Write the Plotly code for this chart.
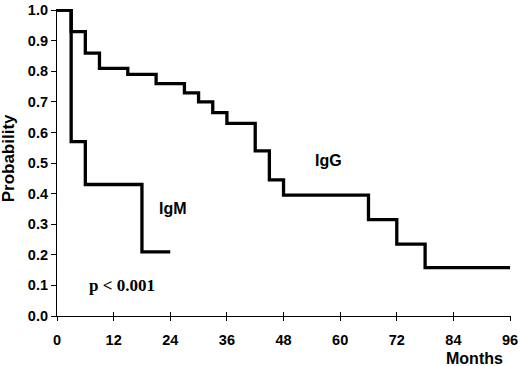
import plotly.graph_objects as go

igg_months = [0, 3, 6, 9, 15, 21, 27, 30, 33, 36, 42, 45, 48, 66, 72, 78, 96]
igg_prob = [1.0, 0.93, 0.86, 0.81, 0.79, 0.76, 0.73, 0.70, 0.665, 0.63, 0.54, 0.445, 0.395, 0.315, 0.235, 0.158, 0.158]
igm_months = [0, 3, 6, 18, 24]
igm_prob = [1.0, 0.57, 0.43, 0.21, 0.21]
x_ticks = [0, 12, 24, 36, 48, 60, 72, 84, 96]
y_ticks = [0.0, 0.1, 0.2, 0.3, 0.4, 0.5, 0.6, 0.7, 0.8, 0.9, 1.0]

fig = go.Figure()
fig.add_trace(go.Scatter(x=igg_months, y=igg_prob, mode="lines", line=dict(shape="hv", color="black", width=3.3), name="IgG"))
fig.add_trace(go.Scatter(x=igm_months, y=igm_prob, mode="lines", line=dict(shape="hv", color="black", width=3.3), name="IgM"))
# invisible trace for overlay axis (inside ticks)
fig.add_trace(go.Scatter(x=[0, 96], y=[0, 0], mode="lines", line=dict(width=0), xaxis="x2", yaxis="y", hoverinfo="skip", showlegend=False))

tickfont = dict(family="Liberation Sans, Arial, sans-serif", size=14.5, color="black", weight="bold")
fig.update_layout(
    width=520, height=366,
    margin=dict(l=57, r=9, t=9, b=50),
    paper_bgcolor="white", plot_bgcolor="white",
    showlegend=False,
    xaxis=dict(range=[0, 96.2], tickvals=x_ticks, ticktext=[str(v) for v in x_ticks],
               showgrid=False, zeroline=False, showline=True, linecolor="black", linewidth=1.2,
               ticks="outside", ticklen=4, tickwidth=1.2, tickcolor="black", tickfont=tickfont,
               ticklabelstandoff=6, ticklabeloverflow="allow", automargin=False),
    xaxis2=dict(range=[0, 96.2], tickvals=x_ticks, overlaying="x", anchor="y", side="bottom",
                showgrid=False, zeroline=False, showline=False, showticklabels=False,
                ticks="inside", ticklen=4, tickwidth=1.2, tickcolor="black", automargin=False),
    yaxis=dict(range=[0, 1.004], tickvals=y_ticks, tickformat=".1f",
               showgrid=False, zeroline=False, showline=True, linecolor="black", linewidth=1.2,
               ticks="outside", ticklen=5, tickwidth=1.2, tickcolor="black", tickfont=tickfont,
               ticklabeloverflow="allow", automargin=False),
)

lab = dict(family="Liberation Sans, Arial, sans-serif", size=16, color="black", weight="bold")
fig.add_annotation(text="Probability", xref="paper", yref="paper", x=-0.107, y=0.515,
                   xanchor="center", yanchor="middle", textangle=-90, showarrow=False,
                   font=dict(family="Liberation Sans, Arial, sans-serif", size=17, color="black", weight="bold"))
fig.add_annotation(text="Months", xref="paper", yref="paper", x=0.92, y=-0.137,
                   xanchor="center", yanchor="middle", showarrow=False, font=lab)
fig.add_annotation(text="IgG", x=57.5, y=0.51, showarrow=False, font=lab)
fig.add_annotation(text="IgM", x=24.6, y=0.35, showarrow=False, font=lab)
fig.add_annotation(text="p &lt; 0.001", x=13.8, y=0.1, showarrow=False,
                   font=dict(family="Liberation Serif, Times New Roman, serif", size=17, color="black", weight="bold"))

fig.write_html("out.html")
